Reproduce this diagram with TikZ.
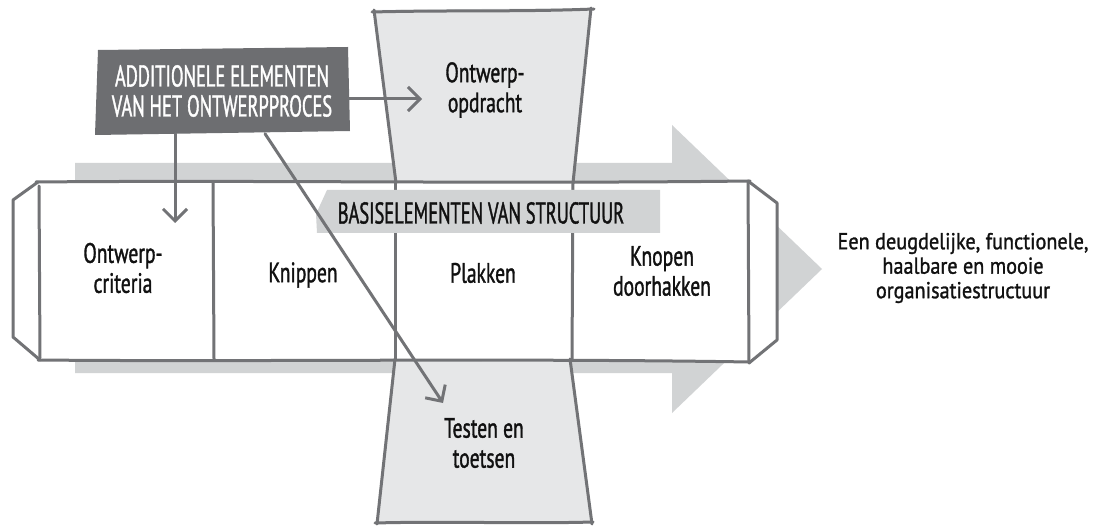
\documentclass[tikz,border=0pt]{standalone}
\usepackage{fontspec}
\usetikzlibrary{arrows.meta,calc}
\newfontfamily\handfont[FakeStretch=0.7,FakeBold=1.2]{PT Sans}
\newfontfamily\widefont[FakeStretch=0.88,FakeBold=1.2]{PT Sans}
\newfontfamily\capsfont[FakeStretch=0.615,FakeBold=1.2]{PT Sans}
\definecolor{bandgray}{HTML}{D1D3D4}
\definecolor{crossgray}{HTML}{E6E7E8}
\definecolor{edgegray}{HTML}{727376}
\definecolor{tagdark}{HTML}{6D6E71}
\definecolor{inkblack}{HTML}{111111}
\tikzset{
  edge/.style={draw=edgegray, line width=3pt, line cap=round, line join=round},
  pointer/.style={draw=edgegray, line width=3pt, line cap=round,
    -{Straight Barb[length=12pt,width=24pt]}},
  handtext/.style={text=inkblack, align=center, inner sep=0pt,
    font=\handfont\fontsize{28}{30}\selectfont},
  capstext/.style={align=center, inner sep=0pt,
    font=\capsfont\fontsize{30}{30}\selectfont},
}
\begin{document}
\begin{tikzpicture}[x=1pt,y=-1pt]
\path[use as bounding box, fill=white] (0,0) rectangle (1099,526);

% broad arrow running behind the row
\fill[bandgray] (75,163) -- (672,163) -- (672,125) -- (822,269)
  -- (672,413) -- (672,373) -- (75,373) -- cycle;

% shaded boxes above and below the middle cell
\fill[crossgray] (374,10) -- (591,8) -- (573,182) -- (395,182) -- cycle;
\fill[crossgray] (395,360) -- (570,360) -- (592,523) -- (377,523) -- cycle;

% white row of cells
\fill[white] (13,200) -- (38,182) -- (748,182) -- (777,203) -- (777,340)
  -- (748,362) -- (40,360) -- (13,337) -- cycle;

% row outline
\draw[edge] (38,182) -- (13,200) -- (13,337) -- (40,360);
\draw[edge] (36,182) .. controls (250,180) and (500,184) .. (750,181);
\draw[edge] (38,360) .. controls (250,362) and (500,358) .. (750,362);
\draw[edge] (39,186) -- (40,358);
\draw[edge] (213,183) -- (214,359);
\draw[edge] (395,182) -- (395,360);
\draw[edge] (573,182) -- (572,360);
\draw[edge] (748,181) -- (749,363);
\draw[edge] (748,181) -- (777,203) -- (777,340) -- (749,363);

% upper box outline
\draw[edge] (374,10) -- (396,183);
\draw[edge] (591,8) -- (573,183);
\draw[edge] (372,12) .. controls (450,10) and (520,12) .. (594,9);

% lower box outline
\draw[edge] (395,359) -- (377,524);
\draw[edge] (570,359) -- (592,524);
\draw[edge] (375,523) .. controls (450,521) and (520,524) .. (593,522);

% label across the row
\fill[bandgray] (327,190) -- (660,190) -- (660,233) -- (317,233) -- (316,214) -- cycle;
\node[capstext, text=inkblack] (basis) at (481,213) {BASISELEMENTEN VAN STRUCTUUR};

% dark tag
\fill[tagdark] (98,50) -- (348,47) -- (350,131) -- (95,135) -- cycle;
\node[capstext, text=white, minimum width=254pt, minimum height=85pt] (addl) at (222,91)
  {ADDITIONELE ELEMENTEN\\VAN HET ONTWERPPROCES};

% cell texts
\node[handtext] (opd) at (485,90) {Ontwerp-\\opdracht};
\node[handtext] (crit) at (123,268) {Ontwerp-\\criteria};
\node[handtext] (knip) at (303,275) {Knippen};
\node[handtext] (plak) at (483,273) {Plakken};
\node[handtext] (knoop) at (662,271) {Knopen\\doorhakken};
\node[handtext] (test) at (484,443) {Testen en\\toetsen};
\node[handtext, font=\widefont\fontsize{23}{24.5}\selectfont] (result) at (963,268)
  {Een deugdelijke, functionele,\\haalbare en mooie\\organisatiestructuur};

% arrow ends
\coordinate (critin) at (175,223);
\coordinate (opdin) at (422,99);
\coordinate (testin) at (443,403);

% pointers from the tag
\draw[pointer] (addl.south -| critin) -- (critin);
\draw[pointer] (addl.east |- opdin) -- (opdin);
\draw[pointer] ([xshift=43pt]addl.south) -- (testin);
\end{tikzpicture}
\end{document}
